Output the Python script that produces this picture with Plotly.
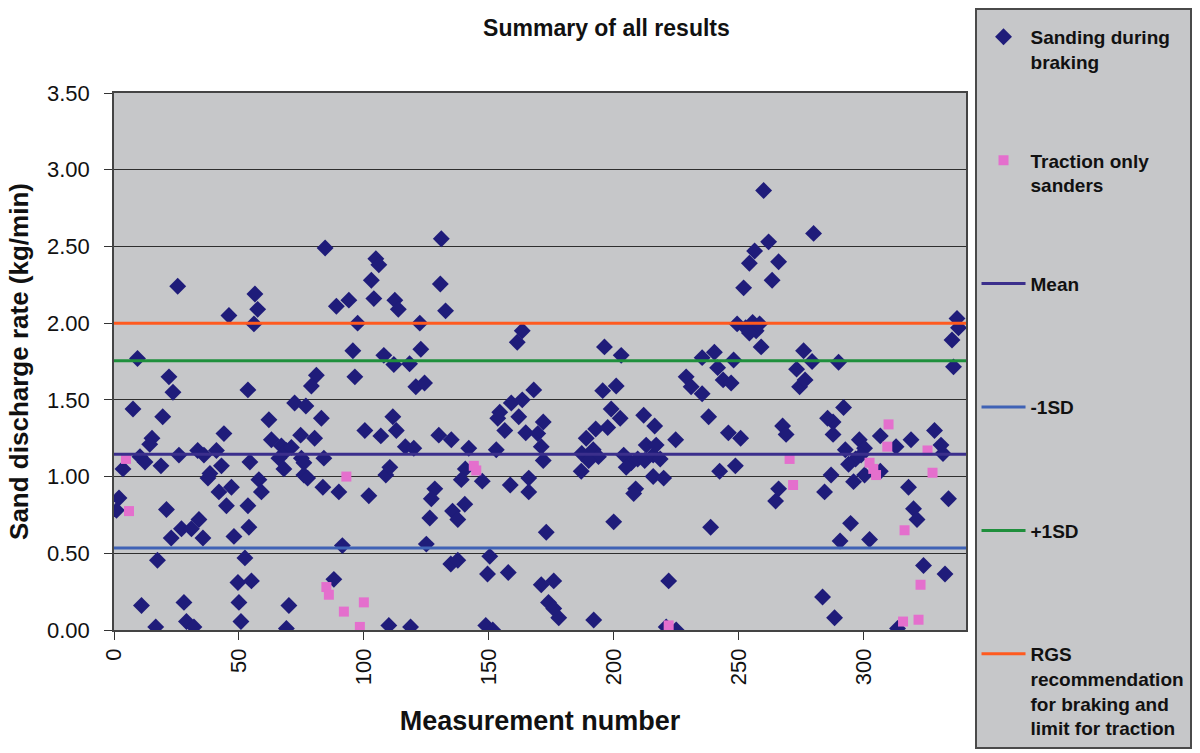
import plotly.graph_objects as go

# ---------------- data ----------------
braking_x = [25.5, 46, 9.4, 22, 23.6, 7.6, 19.5, 44, 15.2, 14.3, 10.4, 12.4, 18.8, 26, 33.5, 36, 41, 3.6, 43,
             38.4, 37.6, 42, 47, 2, 1, 21, 45, 53.6, 34, 27, 31, 22.9, 35.6, 48, 54, 17.4, 52.4, 49.6, 55, 11,
             28, 50, 16.7, 29, 32, 50.8,
             84.5, 104.8, 106, 56.4, 57.5, 56, 103, 89, 94, 104, 97.5, 95.6, 108, 112, 96.4, 81, 79, 53.6, 72.3,
             76.8, 83, 62, 111.6, 113, 100.4, 106.8, 74.7, 80.3, 63, 67, 69, 71, 66, 68, 75, 76, 84, 54.4, 76,
             77.5, 108.8, 110.4, 58, 59, 83.6, 90, 102, 91.4, 88, 70, 69, 110,
             131, 130.6, 132.7, 112.4, 113.8, 122.4, 163.4, 161.4, 122.8, 118.3, 120.8, 124.3, 168, 159, 163.4,
             154.4, 153.6, 162, 156.4, 164.8, 169.6, 130, 135, 116.6, 120, 142, 153, 171, 140.6, 139, 147.4,
             158.6, 166, 166, 128.4, 127, 140.4, 135.5, 137.6, 126.4, 125, 134.8, 137.6, 150.4, 149.5, 157.8,
             171, 118.7, 148.8, 151.6,
             196.3, 203, 195.6, 201, 199, 202.6, 171.8, 212, 216.4, 192.8, 189, 197.6, 224.8, 171.8, 187.2,
             191.8, 193.9, 190, 204, 207, 209.6, 212.4, 215.8, 218.6, 213, 217, 205, 187, 215.8, 220, 208.8,
             208, 200, 173, 176, 173.9, 176, 178, 192, 222, 221, 225,
             260, 280, 262, 256.4, 254.3, 266, 263.4, 252, 249.4, 252.8, 255.6, 257, 258.4, 254.3, 259, 235.4,
             240.3, 241.6, 248, 276, 279.4, 273.2, 229, 231, 235.4, 243.8, 247, 274.4, 276.6, 238, 267.6, 269,
             245.9, 250.8, 287.8, 242.4, 248.7, 287, 266, 264.8, 284.4, 238.8, 283.6,
             337.4, 338, 335.4, 290, 336, 292, 285.6, 287.8, 298.3, 300.4, 306.7, 313, 319, 328.4, 331, 331.8,
             292.7, 296.8, 294, 299, 306.7, 296, 300.4, 318, 334, 320, 321.4, 294.8, 290.6, 302.4, 324, 332.6,
             288.4, 313.6]
braking_y = [2.24, 2.05, 1.77, 1.65, 1.55, 1.44, 1.39, 1.28, 1.25, 1.21, 1.13, 1.095, 1.07, 1.14, 1.17, 1.14, 1.17,
             1.05, 1.07, 1.02, 0.99, 0.90, 0.93, 0.86, 0.78, 0.785, 0.81, 0.81, 0.72, 0.66, 0.66, 0.60, 0.60, 0.61,
             0.67, 0.455, 0.47, 0.31, 0.32, 0.16, 0.18, 0.18, 0.02, 0.055, 0.02, 0.055,
             2.49, 2.42, 2.38, 2.19, 2.09, 1.995, 2.28, 2.11, 2.15, 2.16, 2.0, 1.82, 1.79, 1.73, 1.65, 1.66, 1.59,
             1.565, 1.48, 1.46, 1.38, 1.37, 1.39, 1.30, 1.30, 1.265, 1.27, 1.25, 1.24, 1.20, 1.17, 1.19, 1.12,
             1.05, 1.12, 1.09, 1.12, 1.095, 1.01, 0.99, 1.01, 1.06, 0.98, 0.90, 0.93, 0.90, 0.875, 0.55, 0.33,
             0.16, 0.01, 0.03,
             2.55, 2.255, 2.08, 2.15, 2.09, 2.0, 1.95, 1.875, 1.83, 1.735, 1.585, 1.61, 1.565, 1.48, 1.50, 1.42,
             1.38, 1.39, 1.30, 1.286, 1.28, 1.27, 1.24, 1.195, 1.185, 1.185, 1.175, 1.195, 1.05, 0.98, 0.97,
             0.945, 0.99, 0.90, 0.92, 0.855, 0.82, 0.775, 0.72, 0.73, 0.56, 0.43, 0.455, 0.48, 0.365, 0.375,
             0.295, 0.02, 0.03, 0.0,
             1.845, 1.79, 1.56, 1.59, 1.44, 1.38, 1.356, 1.40, 1.33, 1.31, 1.25, 1.32, 1.24, 1.105, 1.15, 1.175,
             1.13, 1.105, 1.14, 1.09, 1.115, 1.105, 1.14, 1.115, 1.205, 1.205, 1.06, 1.035, 1.0, 0.99, 0.92,
             0.89, 0.705, 0.637, 0.32, 0.18, 0.14, 0.08, 0.065, 0.32, 0.02, 0.0,
             2.865, 2.585, 2.53, 2.47, 2.39, 2.40, 2.28, 2.23, 1.995, 1.97, 2.005, 1.95, 1.995, 1.935, 1.845,
             1.775, 1.81, 1.71, 1.76, 1.82, 1.75, 1.70, 1.65, 1.585, 1.54, 1.63, 1.61, 1.585, 1.63, 1.39, 1.33,
             1.275, 1.285, 1.25, 1.356, 1.035, 1.07, 1.01, 0.92, 0.84, 0.90, 0.67, 0.215,
             2.03, 1.97, 1.89, 1.745, 1.715, 1.45, 1.38, 1.275, 1.24, 1.185, 1.265, 1.195, 1.24, 1.30, 1.205,
             1.15, 1.175, 1.115, 1.08, 1.14, 1.035, 0.967, 1.01, 0.93, 0.855, 0.79, 0.72, 0.695, 0.58, 0.59,
             0.42, 0.365, 0.08, 0.01]

traction_x = [4.8, 6, 93, 85, 86, 100, 92, 98.4, 144, 145, 222, 270.4, 271.8, 310, 309.5, 302.4, 303.9, 305,
              327.6, 325.6, 316.4, 322.8, 315.8, 322]
traction_y = [1.115, 0.775, 1.0, 0.28, 0.23, 0.18, 0.12, 0.02, 1.07, 1.04, 0.03, 1.115, 0.945, 1.34, 1.195,
              1.09, 1.05, 1.01, 1.025, 1.17, 0.65, 0.295, 0.055, 0.067]

mean_value = 1.145
minus_1sd = 0.535
plus_1sd = 1.755
rgs_limit = 2.0

x_ticks = [0, 50, 100, 150, 200, 250, 300]
y_ticks = [0, 0.5, 1.0, 1.5, 2.0, 2.5, 3.0, 3.5]
X_MAX = 341

# ---------------- figure ----------------
FONT = "Arial, Liberation Sans, sans-serif"
BG = "#c6c7c9"
NBSP = "\u00a0"

fig = go.Figure()

fig.add_trace(go.Scatter(
    x=braking_x, y=braking_y, mode="markers", name="<b>Sanding during<br>braking</b>",
    legendgroup="a",
    marker=dict(symbol="diamond", size=13, color="#1f1c7a", line=dict(width=0))))
fig.add_trace(go.Scatter(
    x=traction_x, y=traction_y, mode="markers", name="<b>Traction only<br>sanders</b>",
    legendgroup="b",
    marker=dict(symbol="square", size=10, color="#e46fcd", line=dict(width=0))))

ref_lines = [
    ("<b>Mean</b><br>" + NBSP, mean_value, "#3b2f8c", "c"),
    ("<b>-1SD</b><br>" + NBSP, minus_1sd, "#3f62b5", "d"),
    ("<b>+1SD</b><br>" + NBSP, plus_1sd, "#1f8f3c", "e"),
    ("<b>RGS<br>recommendation<br>for braking and<br>limit for traction</b>", rgs_limit, "#ff5a1f", "f"),
]
for name, val, col, grp in ref_lines:
    fig.add_trace(go.Scatter(
        x=[0, X_MAX], y=[val, val], mode="lines", name=name, legendgroup=grp,
        line=dict(color=col, width=3)))

L, R, T, B = 114, 234, 93, 123
fig.update_layout(
    width=1200, height=753,
    paper_bgcolor="white", plot_bgcolor=BG,
    margin=dict(l=L, r=R, t=T, b=B, autoexpand=False),
    font=dict(family=FONT, color="#111111", size=17),
    title=dict(text="<b>Summary of all results</b>", x=0.578, xref="paper", xanchor="center",
               y=1 - 28 / 753, yref="container", yanchor="middle",
               font=dict(size=23, family=FONT, color="#111111")),
    showlegend=True,
    legend=dict(
        x=1.01, xanchor="left", xref="paper", y=1.158, yanchor="top", yref="paper",
        bgcolor=BG, bordercolor="#4a4a4a", borderwidth=2,
        font=dict(size=19, family=FONT, color="#111111"),
        title=dict(text=NBSP, font=dict(size=6)),
        tracegroupgap=71, valign="top", itemwidth=44, maxheight=745,
    ),
)

fig.update_xaxes(
    range=[0, X_MAX], tickmode="array", tickvals=x_ticks, ticktext=[str(v) for v in x_ticks],
    tickangle=-90, ticks="outside", ticklen=8, tickcolor="#333333",
    showgrid=False, zeroline=False, showline=True, linecolor="#444444", linewidth=1.5, mirror=True,
    tickfont=dict(size=22, family=FONT), automargin=True,
    title=dict(text="<b>Measurement number</b>", font=dict(size=27, family=FONT), standoff=27),
)
fig.update_yaxes(
    range=[0, 3.5], tickmode="array", tickvals=y_ticks, ticktext=[f"{v:.2f}" for v in y_ticks],
    ticks="outside", ticklen=8, tickcolor="#333333", ticklabelstandoff=10,
    showgrid=True, gridcolor="#2e2e2e", gridwidth=1.3, zeroline=False,
    showline=True, linecolor="#444444", linewidth=1.5, mirror=True,
    tickfont=dict(size=22, family=FONT), automargin=True,
    title=dict(text="<b>Sand discharge rate (kg/min)</b>", font=dict(size=26, family=FONT), standoff=11),
)

fig.write_html("out.html", config={"displayModeBar": False},
               post_script="document.body.style.margin='0px';")
